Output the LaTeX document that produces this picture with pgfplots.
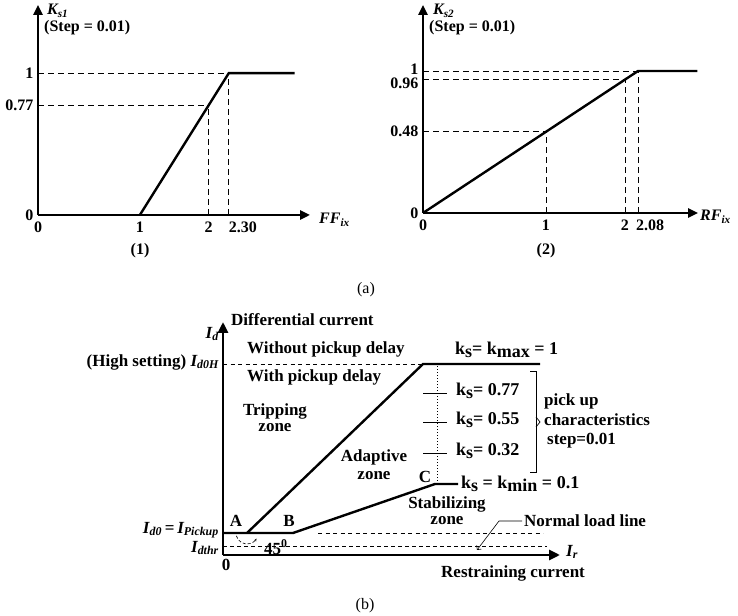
\documentclass[border=0pt]{standalone}
\usepackage{fontspec}
\setmainfont{Liberation Serif}
\usepackage{pgfplots}
\pgfplotsset{compat=1.18}
\usetikzlibrary{arrows.meta}
\newcommand{\fs}[1]{\fontsize{#1}{#1}\selectfont}
\newcommand{\lw}[1]{\raisebox{-3.5pt}{#1}}
\pgfplotsset{
  myax/.style={
    scale only axis, clip=false, axis lines=left,
    axis line style={line width=2.4pt, -{Triangle[length=10pt,width=9pt]}},
    major tick length=0pt,
    tick label style={font=\fs{16}\bfseries},
    anchor=south west,
  },
  thick line/.style={line width=2.4pt, black},
  dsh/.style={line width=0.9pt, black, dash pattern=on 6pt off 4pt},
}
\begin{document}
\begin{tikzpicture}
\path[use as bounding box] (0,0) rectangle (738pt,615pt);

% ---------- (a)(1) ----------
\begin{axis}[myax, at={(38pt,400pt)}, width=272pt, height=210pt,
  xmin=0, xmax=2.67, ymin=0, ymax=1.48,
  xtick={0,1,1.676,2.01}, xticklabels={0,1,2,2.30},
  ytick={0,0.77,1}, yticklabels={0,0.77,1},
  xticklabel style={yshift=-3pt}, yticklabel style={xshift=-1pt, inner ysep=1pt}]
\addplot[thick line] coordinates {(1,0) (1.873,1) (2.52,1)};
\addplot[dsh] coordinates {(0,1) (1.873,1)};
\addplot[dsh] coordinates {(0,0.774) (1.676,0.774)};
\addplot[dsh] coordinates {(1.676,0) (1.676,0.774)};
\addplot[dsh] coordinates {(1.873,0) (1.873,1)};
\end{axis}

% ---------- (a)(2) ----------
\begin{axis}[myax, at={(423pt,402pt)}, width=275pt, height=208pt,
  xmin=0, xmax=2.236, ymin=0, ymax=1.465,
  xtick={0,1,1.642,1.846}, xticklabels={0,1,2,2.08},
  ytick={0,0.572,0.912,1.015}, yticklabels={0,0.48,0.96,1},
  xticklabel style={yshift=-3pt}, yticklabel style={xshift=-1pt, inner ysep=0pt}]
\addplot[thick line] coordinates {(0,0) (1.748,1) (2.23,1)};
\addplot[dsh] coordinates {(0,1) (1.748,1)};
\addplot[dsh] coordinates {(0,0.939) (1.642,0.939)};
\addplot[dsh] coordinates {(0,0.572) (1,0.572)};
\addplot[dsh] coordinates {(1,0) (1,0.572)};
\addplot[dsh] coordinates {(1.642,0) (1.642,0.939)};
\addplot[dsh] coordinates {(1.748,0) (1.748,1)};
\end{axis}

% ---------- (b) ----------
\begin{axis}[myax, at={(223pt,60pt)}, width=337pt, height=233pt,
  axis line style={line width=2.8pt, -{Triangle[length=11pt,width=10pt]}},
  xmin=0, xmax=3.37, ymin=0, ymax=2.33, xtick=\empty, ytick=\empty]
\addplot[thick line] coordinates {(0,0.22) (0.70,0.22) (2.12,0.71) (2.35,0.71)};
\addplot[thick line] coordinates {(0.24,0.22) (2.00,1.91) (3.17,1.91)};
\addplot[line width=0.9pt, dash pattern=on 4pt off 3.5pt] coordinates {(0,1.91) (2.00,1.91)};
\addplot[line width=1pt, dotted] coordinates {(2.14,0.71) (2.14,1.91)};
\addplot[line width=0.8pt] coordinates {(2.00,1.62) (2.24,1.62)};
\addplot[line width=0.8pt] coordinates {(2.00,1.33) (2.24,1.33)};
\addplot[line width=0.8pt] coordinates {(2.00,1.02) (2.24,1.02)};
\addplot[line width=0.8pt, dash pattern=on 4pt off 3.5pt] coordinates {(0.95,0.22) (3.20,0.22)};
\addplot[line width=0.8pt, dash pattern=on 4pt off 3pt] coordinates {(0,0.09) (3.24,0.09)};
\end{axis}

% ---------- annotations ----------
\begin{scope}[x=1pt, y=-1pt, yshift=615pt]
\fs{16}
\node[anchor=west, inner sep=0] at (47,11) {\bfseries\itshape K\textsubscript{s1}};
\node[anchor=west, inner sep=0] at (44,28) {\bfseries (Step = 0.01)};
\node[anchor=west, inner sep=0] at (319,220) {\bfseries\itshape FF\textsubscript{ix}};
\node at (140,251) {\bfseries (1)};
\node[anchor=west, inner sep=0] at (433,11) {\bfseries\itshape K\textsubscript{s2}};
\node[anchor=west, inner sep=0] at (429,28) {\bfseries (Step = 0.01)};
\node[anchor=west, inner sep=0] at (700,217) {\bfseries\itshape RF\textsubscript{ix}};
\node at (546,251) {\bfseries (2)};
\node at (366,290) {(a)};
\node at (365,606) {(b)};

\fs{17}
\node[anchor=east, inner sep=0] at (219,334) {\bfseries\itshape I\textsubscript{d}};
\node[anchor=east, inner sep=0] at (219,362) {\bfseries (High setting) \itshape I\textsubscript{d0H}};
\node[anchor=east, inner sep=0] at (219,530) {\bfseries\itshape I\textsubscript{d0}\upshape\,=\,\itshape I\textsubscript{Pickup}};
\node[anchor=east, inner sep=0] at (219,548) {\bfseries\itshape I\textsubscript{dthr}};
\node[inner sep=0] at (226,565) {\bfseries 0};
\node[anchor=west, inner sep=0] at (231,320) {\bfseries Differential current};
\node[anchor=west, inner sep=0] at (247,349) {\bfseries Without pickup delay};
\node[anchor=west, inner sep=0] at (247,377) {\bfseries With pickup delay};
\node[align=center, inner sep=0, font=\fontsize{17}{16}\selectfont\bfseries] at (275,418) {Tripping\\zone};
\node[align=center, inner sep=0, font=\fontsize{17}{18}\selectfont\bfseries] at (374,465) {Adaptive\\zone};
\node[align=center, inner sep=0, font=\fontsize{17}{16}\selectfont\bfseries] at (447,511) {Stabilizing\\zone};
\node[inner sep=0] at (236,521) {\bfseries A};
\node[inner sep=0] at (289,521) {\bfseries B};
\node[inner sep=0] at (425,477) {\bfseries C};
\node[anchor=west, inner sep=0] at (264,547) {\bfseries 45\textsuperscript{0}};
\draw[line width=0.6pt, densely dashed, -{Stealth[length=3pt]}] (247,533) ++(195:11pt) arc[start angle=195, end angle=330, radius=11pt];
\begin{scope}[font=\fontsize{18}{18}\selectfont\bfseries]
\node[anchor=west, inner sep=0] at (455,350) {k\lw{s}= k\lw{max} = 1};
\node[anchor=west, inner sep=0] at (456,391) {k\lw{s}= 0.77};
\node[anchor=west, inner sep=0] at (456,420) {k\lw{s}= 0.55};
\node[anchor=west, inner sep=0] at (456,451) {k\lw{s}= 0.32};
\node[anchor=west, inner sep=0] at (461,484) {k\lw{s} = k\lw{min} = 0.1};
\end{scope}
\draw[line width=0.7pt] (530,371) -- (536,371) -- (536,472) -- (530,472);
\draw[line width=0.7pt] (536,417) -- (540,422) -- (536,427);
\node[anchor=west, inner sep=0] at (544,401) {\bfseries pick up};
\node[anchor=west, inner sep=0] at (544,420) {\bfseries characteristics};
\node[anchor=west, inner sep=0] at (547,441) {\bfseries step=0.01};
\draw[line width=0.6pt, -{Straight Barb[length=3pt]}] (522,521) -- (499,521) -- (477,550);
\node[anchor=west, inner sep=0] at (524,521) {\bfseries Normal load line};
\node[anchor=west, inner sep=0] at (441,573) {\bfseries Restraining current};
\node[anchor=west, inner sep=0] at (566,552) {\bfseries\itshape I\textsubscript{r}};
\end{scope}
\end{tikzpicture}
\end{document}
